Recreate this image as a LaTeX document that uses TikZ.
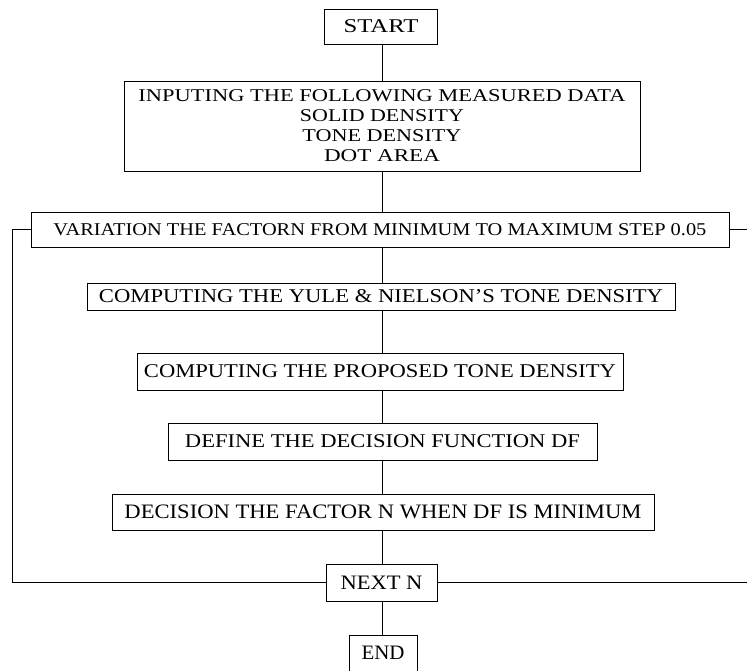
\documentclass[tikz,border=0pt]{standalone}
\usepackage{fontspec}
\setmainfont{Liberation Serif}
\usepackage{graphicx}
\begin{document}
\begin{tikzpicture}[x=1pt,y=-1pt,
  box/.style={draw=black, line width=0.75pt, rectangle, inner sep=0pt, align=center,
              font=\fontsize{19.5}{20}\selectfont},
  bigtxt/.style={font=\fontsize{20.5}{21}\selectfont},
  smalltxt/.style={font=\fontsize{18}{20}\selectfont},
  link/.style={draw=black, line width=0.75pt}]
\clip (0,0) rectangle (747,670);
\coordinate (spine) at (382,0);
\coordinate (loopx) at (12,0);
\coordinate (redge) at (747,0);

\node[box, minimum width=113pt, minimum height=35pt] (start) at (381,26.5)
  {\resizebox{75pt}{\height}{START}};
\node[box, smalltxt, minimum width=516pt, minimum height=90pt] (input) at (382,126)
  {\resizebox{487pt}{\height}{INPUTING THE FOLLOWING MEASURED DATA}\\
   \resizebox{164pt}{\height}{SOLID DENSITY}\\
   \resizebox{159pt}{\height}{TONE DENSITY}\\
   \resizebox{116pt}{\height}{DOT AREA}};
\node[box, smalltxt, minimum width=698pt, minimum height=35pt] (var) at (380,229.5)
  {\resizebox{653pt}{\height}{VARIATION THE FACTORN FROM MINIMUM TO MAXIMUM STEP 0.05}};
\node[box, minimum width=588pt, minimum height=27pt] (yule) at (381,296.5)
  {\resizebox{564pt}{\height}{COMPUTING THE YULE \& NIELSON'S TONE DENSITY}};
\node[box, minimum width=486pt, minimum height=37pt] (prop) at (380,371.5)
  {\resizebox{472pt}{\height}{COMPUTING THE PROPOSED TONE DENSITY}};
\node[box, minimum width=429pt, minimum height=37pt] (def) at (382.5,441.5)
  {\resizebox{395pt}{\height}{DEFINE THE DECISION FUNCTION DF}};
\node[box, bigtxt, minimum width=542pt, minimum height=36pt] (dec) at (383,512)
  {\resizebox{517pt}{\height}{DECISION THE FACTOR N WHEN DF IS MINIMUM}};
\node[box, bigtxt, minimum width=111pt, minimum height=37pt] (next) at (381.5,582.5)
  {\resizebox{82pt}{\height}{NEXT N}};
\node[box, bigtxt, minimum width=68pt, minimum height=36pt] (end) at (383,653)
  {\resizebox{43pt}{\height}{END}};

\draw[link] (start.south -| spine) -- (input.north -| spine);
\draw[link] (input.south -| spine) -- (var.north -| spine);
\draw[link] (var.south -| spine) -- (yule.north -| spine);
\draw[link] (yule.south -| spine) -- (prop.north -| spine);
\draw[link] (prop.south -| spine) -- (def.north -| spine);
\draw[link] (def.south -| spine) -- (dec.north -| spine);
\draw[link] (dec.south -| spine) -- (next.north -| spine);
\draw[link] (next.south -| spine) -- (end.north -| spine);

\draw[link] (var.west) -- (var.west -| loopx) -- (next.west -| loopx) -- (next.west);
\draw[link] (var.east) -- (var.east -| redge);
\draw[link] (next.east) -- (next.east -| redge);
\end{tikzpicture}
\end{document}
